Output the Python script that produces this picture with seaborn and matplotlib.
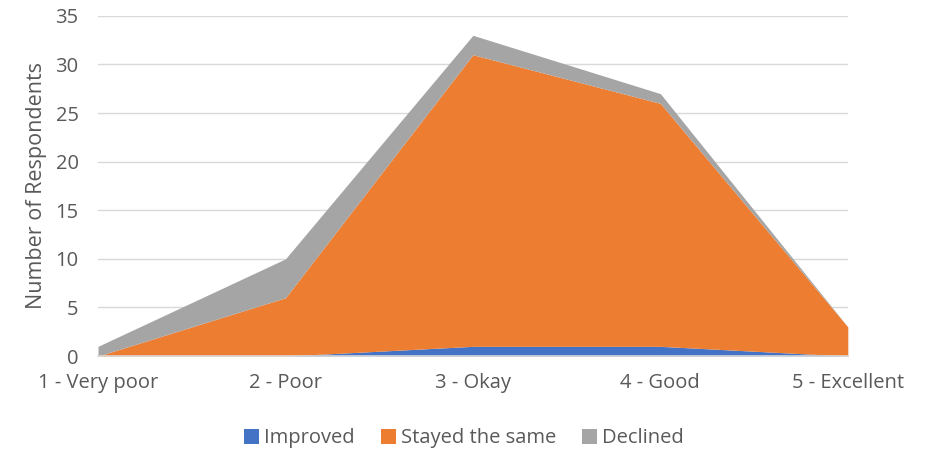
import matplotlib
matplotlib.use("Agg")
import matplotlib.pyplot as plt
import seaborn as sns
from matplotlib.patches import Patch

categories = ["1 - Very poor", "2 - Poor", "3 - Okay", "4 - Good", "5 - Excellent"]
improved = [0, 0, 1, 1, 0]
stayed_same = [0, 6, 30, 25, 3]
declined = [1, 4, 2, 1, 0]
series_names = ["Improved", "Stayed the same", "Declined"]
colors = ["#4472c4", "#ed7d31", "#a5a5a5"]

sns.set_style("white")
plt.rcParams["font.family"] = ["Open Sans", "DejaVu Sans"]
text_color = "#595959"
grid_color = "#d9d9d9"

fig = plt.figure(figsize=(9.28, 4.53), dpi=100)
ax = fig.add_axes([0.1056, 0.214, 0.808, 0.751])

x = list(range(len(categories)))
ax.stackplot(x, improved, stayed_same, declined, colors=colors, labels=series_names,
             linewidth=0, zorder=2)

ax.set_xlim(0, len(categories) - 1)
ax.set_ylim(0, 35)
ax.set_yticks(range(0, 36, 5))
ax.set_xticks(x)
ax.set_xticklabels(categories)
ax.yaxis.grid(True, color=grid_color, linewidth=1, zorder=0)
ax.set_axisbelow(True)

for side in ["top", "right", "left"]:
    ax.spines[side].set_visible(False)
ax.spines["bottom"].set_color(grid_color)
ax.spines["bottom"].set_linewidth(1.2)
ax.spines["bottom"].set_zorder(3)

ax.tick_params(axis="x", colors=grid_color, length=6, width=1.2, direction="out",
               labelcolor=text_color, labelsize=14.5, pad=6)
ax.tick_params(axis="y", length=0, labelcolor=text_color, labelsize=14.5, pad=14)

ax.set_ylabel("Number of Respondents", color=text_color, fontsize=15.5, labelpad=6)

handles = [Patch(facecolor=c, edgecolor="none") for c in colors]
fig.legend(handles, series_names, loc="lower center", ncol=3, frameon=False,
           bbox_to_anchor=(0.5, -0.03), fontsize=14.5, labelcolor=text_color,
           handlelength=0.75, handleheight=0.75, handletextpad=0.25, columnspacing=1.3)

fig.savefig("out.png", dpi=100)
